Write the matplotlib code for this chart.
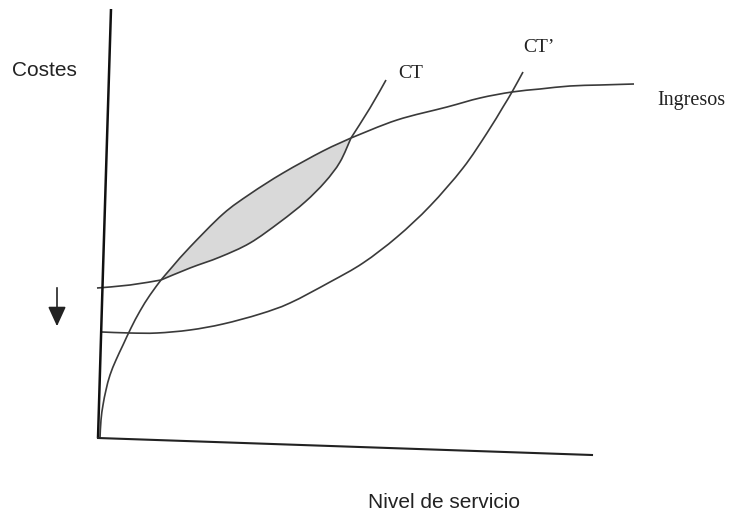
'''
Esquema: Costes / Ingresos frente al nivel de servicio (CT y CT')
'''

import numpy as np
from matplotlib import pyplot as plt
from matplotlib.path import Path
from matplotlib.patches import PathPatch

# curve points (x right, y down, in pixels of the 730x515 image)
# CT: from the origin up to the first crossing with Ingresos
ct_low_x = [100, 101, 103, 106, 110, 116, 123, 131, 140, 150, 161]
ct_low_y = [438, 420, 405, 390, 375, 360, 345, 328, 311, 295, 280]
# lens: upper edge and lower edge between the two crossings
lens_top_x = [161, 173, 190, 223, 250, 283, 323, 351]
lens_top_y = [280, 266, 247, 214, 194, 173, 151, 138]
lens_bot_x = [161, 190, 220, 250, 280, 305, 325, 340, 351]
lens_bot_y = [280, 268, 257, 243, 222, 202, 182, 162, 138]
# CT above the second crossing
ct_high_x = [351, 370, 386]
ct_high_y = [138, 108, 80]
# Ingresos
ing_low_x = [97, 130, 161]
ing_low_y = [288, 285, 280]
ing_high_x = [351, 397, 447, 480, 512, 540, 570, 600, 634]
ing_high_y = [138, 120, 107, 98, 92, 89, 86, 85, 84]
# CT' (shifted cost curve)
ctp_x = [102, 130, 157, 190, 223, 260, 290, 330, 363, 397, 430, 463, 487, 503, 512, 523]
ctp_y = [332, 333, 333, 330, 324, 314, 303, 282, 263, 237, 206, 168, 133, 107, 92, 72]

# axes of the drawing
vaxis_x = [111, 103, 98]
vaxis_y = [9, 270, 438]
haxis_x = [98, 592]
haxis_y = [438, 455]

line_col = '#3a3a3a'
text_col = '#222222'


def smooth_path(xs, ys):
    # Catmull-Rom through the read points, handed to matplotlib as cubic Bezier segments
    pts = np.column_stack([xs, ys]).astype(float)
    ext = np.vstack([pts[0], pts, pts[-1]])
    verts = [pts[0]]
    codes = [Path.MOVETO]
    for i in range(1, len(ext) - 2):
        p0, p1, p2, p3 = ext[i - 1], ext[i], ext[i + 1], ext[i + 2]
        verts += [p1 + (p2 - p0) / 6, p2 - (p3 - p1) / 6, p2]
        codes += [Path.CURVE4] * 3
    return Path(verts, codes)


def draw_curve(ax, xs, ys, **kw):
    ax.add_patch(PathPatch(smooth_path(xs, ys), fill=False, **kw))


def main():
    fig = plt.figure(figsize=(7.3, 5.15), dpi=100)
    ax = fig.add_axes([0, 0, 1, 1])
    ax.set_xlim(0, 730)
    ax.set_ylim(515, 0)
    ax.axis('off')

    # shaded lens
    top = smooth_path(lens_top_x, lens_top_y)
    bot = smooth_path(lens_bot_x[::-1], lens_bot_y[::-1])
    lens = Path(np.vstack([top.vertices, bot.vertices[1:]]),
                list(top.codes) + list(bot.codes[1:]))
    ax.add_patch(PathPatch(lens, facecolor='#d9d9d9', edgecolor='none'))

    # axes
    ax.plot(vaxis_x, vaxis_y, color='#111111', lw=1.8, solid_capstyle='butt')
    ax.plot(haxis_x, haxis_y, color='#222222', lw=1.5)

    # curves
    draw_curve(ax, ct_low_x, ct_low_y, color=line_col, lw=1.2)
    draw_curve(ax, lens_top_x, lens_top_y, color=line_col, lw=1.2)
    draw_curve(ax, ct_high_x, ct_high_y, color=line_col, lw=1.2)
    draw_curve(ax, ing_low_x, ing_low_y, color=line_col, lw=1.2)
    draw_curve(ax, lens_bot_x, lens_bot_y, color=line_col, lw=1.2)
    draw_curve(ax, ing_high_x, ing_high_y, color=line_col, lw=1.2)
    draw_curve(ax, ctp_x, ctp_y, color=line_col, lw=1.2)

    # downward arrow
    ax.annotate('', xy=(57, 329), xytext=(57, 285),
                arrowprops=dict(arrowstyle='-|>,head_width=0.55,head_length=1.2',
                                color=text_col, lw=1.2))

    # labels
    ax.text(12, 70, 'Costes', fontsize=15, family='Liberation Sans',
            va='center', ha='left', color=text_col)
    ax.text(368, 502, 'Nivel de servicio', fontsize=15, family='Liberation Sans',
            va='center', ha='left', color=text_col)
    ax.text(398, 73, 'CT', fontsize=14, family='Liberation Serif',
            va='center', ha='left', color=text_col)
    ax.text(523, 48, 'CT\u2019', fontsize=14, family='Liberation Serif',
            va='center', ha='left', color=text_col)
    ax.text(657, 100, 'Ingresos', fontsize=14.5, family='Liberation Serif',
            va='center', ha='left', color=text_col)

    fig.savefig('out.png', dpi=100, facecolor='white')


if __name__ == "__main__":
    main()
